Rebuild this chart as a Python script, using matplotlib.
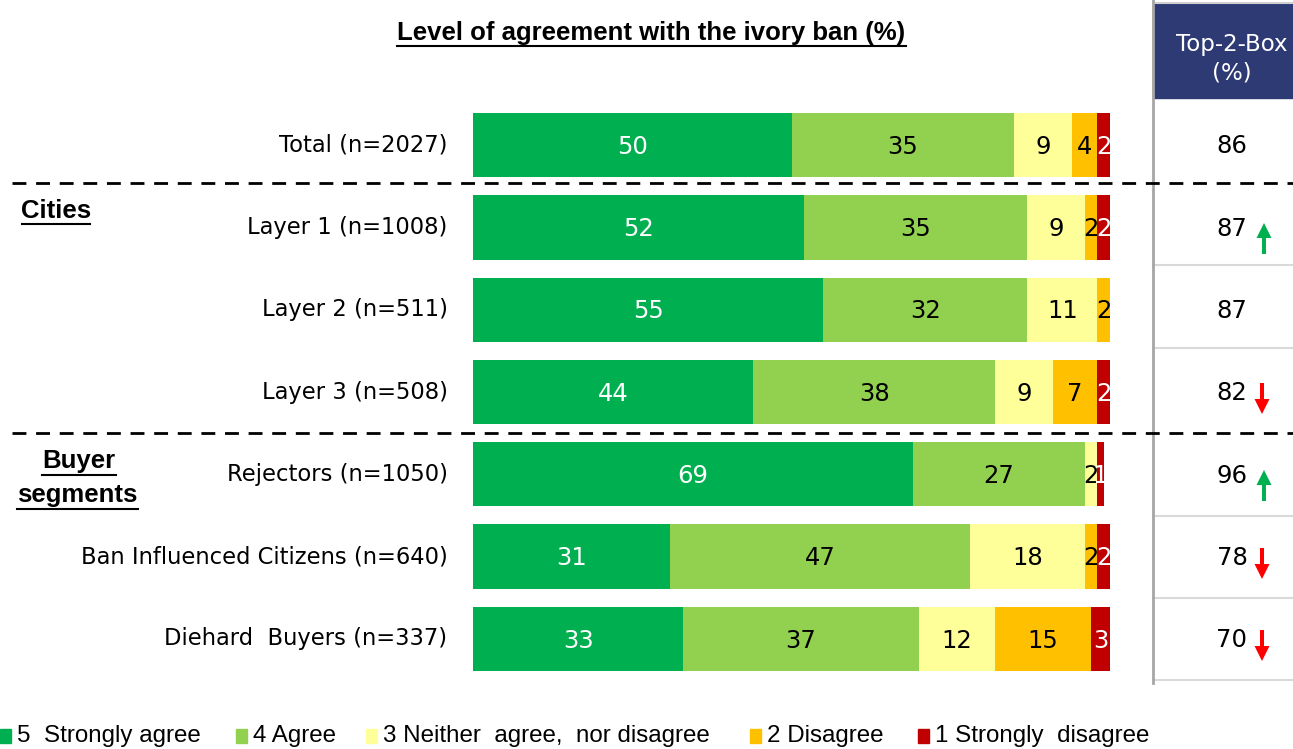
import matplotlib
matplotlib.use("Agg")
import matplotlib.pyplot as plt
from matplotlib.patches import Polygon, Rectangle
import numpy as np

plt.rcParams['font.family'] = ['DejaVu Sans']

categories = ["Total (n=2027)", "Layer 1 (n=1008)", "Layer 2 (n=511)", "Layer 3 (n=508)",
              "Rejectors (n=1050)", "Ban Influenced Citizens (n=640)", "Diehard  Buyers (n=337)"]
strongly_agree = [50, 52, 55, 44, 69, 31, 33]
agree = [35, 35, 32, 38, 27, 47, 37]
neither = [9, 9, 11, 9, 2, 18, 12]
disagree = [4, 2, 2, 7, 0, 2, 15]
strongly_disagree = [2, 2, 0, 2, 1, 2, 3]
top2box = [86, 87, 87, 82, 96, 78, 70]
trend = [0, 1, 0, -1, 1, -1, -1]
series_names = ["5  Strongly agree", "4 Agree", "3 Neither  agree,  nor disagree", "2 Disagree", "1 Strongly  disagree"]
colors = ["#00B050", "#92D050", "#FFFF99", "#FFC000", "#C00000"]
label_colors = ["white", "black", "black", "black", "white"]

W, H = 1293, 749
fig = plt.figure(figsize=(W / 100, H / 100), dpi=100)

ov = fig.add_axes([0, 0, 1, 1])
ov.set_xlim(0, W)
ov.set_ylim(H, 0)
ov.axis('off')

x0, x1 = 473, 1110
ytop, ybot = 104, 680
ax = fig.add_axes([x0 / W, 1 - ybot / H, (x1 - x0) / W, (ybot - ytop) / H])
ax.set_xlim(0, 100)
n = len(categories)
ax.set_ylim(n - 0.5, -0.5)
ax.axis('off')

series = [strongly_agree, agree, neither, disagree, strongly_disagree]
ypos = np.arange(n)
left = np.zeros(n)
for s, vals in enumerate(series):
    vals = np.array(vals, dtype=float)
    ax.barh(ypos, vals, left=left, height=0.78, color=colors[s], edgecolor='none')
    for i, v in enumerate(vals):
        if v > 0:
            ax.text(left[i] + v / 2, i + 0.02, f"{int(v)}", ha='center', va='center',
                    fontsize=17.5, color=label_colors[s])
    left += vals

for i, c in enumerate(categories):
    ax.text(-0.04, i, c, ha='right', va='center', fontsize=16.3, color='black',
            transform=ax.get_yaxis_transform())

head_fam = ['Liberation Sans', 'DejaVu Sans']

ov.text(651, 33, "Level of agreement with the ivory ban (%)", ha='center', va='center',
        fontsize=18.5, color='black', family=head_fam, fontweight='bold')
ov.plot([397, 906], [46, 46], color='black', lw=1.5)

ov.text(56, 211, "Cities", ha='center', va='center', fontsize=18.5, color='black',
        family=head_fam, fontweight='bold')
ov.plot([22, 90], [224, 224], color='black', lw=1.5)
ov.text(79, 461, "Buyer", ha='center', va='center', fontsize=18.5, color='black',
        family=head_fam, fontweight='bold')
ov.plot([42, 116], [475, 475], color='black', lw=1.5)
ov.text(77, 495, "segments", ha='center', va='center', fontsize=18.5, color='black',
        family=head_fam, fontweight='bold')
ov.plot([17, 138], [509, 509], color='black', lw=1.5)

# table
ov.add_patch(Rectangle((1153, 3), W - 1153, 95, color='#2E3A74', zorder=1))
ov.text(1232, 44, "Top-2-Box", ha='center', va='center', fontsize=16.5, color='white')
ov.text(1232, 73, "(%)", ha='center', va='center', fontsize=16.5, color='white')
ov.plot([1153, W], [3, 3], color='#D0D0D0', lw=1.5)
for yy in [265, 348, 516, 598, 680]:
    ov.plot([1153, W], [yy, yy], color='#D9D9D9', lw=1.5)
ov.plot([1153, 1153], [0, 683], color='#A6A6A6', lw=2)


def arrow(x, y_tip, direction, color):
    # direction: -1 up, +1 down (pixel y grows downward)
    head_len, half_w, shaft_len, shaft_hw = 15, 7.5, 16, 1.6
    yb = y_tip - direction * head_len
    ov.add_patch(Polygon([(x, y_tip), (x - half_w, yb), (x + half_w, yb)], closed=True,
                         color=color, lw=0))
    ye = yb - direction * shaft_len
    ov.add_patch(Rectangle((x - shaft_hw, min(yb, ye)), 2 * shaft_hw, abs(ye - yb),
                           color=color, lw=0))


rowy = [145, 228, 310, 392, 475, 557, 639]
for i, (v, t) in enumerate(zip(top2box, trend)):
    ov.text(1232, rowy[i] + 1, f"{v}", ha='center', va='center', fontsize=17.5, color='black')
    if t > 0:
        arrow(1264, rowy[i] - 5, -1, '#00B050')
    elif t < 0:
        arrow(1262, rowy[i] + 22, 1, '#FF0000')

for yy in [183, 433]:
    ov.plot([12, W], [yy, yy], color='black', lw=2, dashes=(5, 3.5))

leg_x = [0, 236, 366, 750, 918]
for i, (lx, name) in enumerate(zip(leg_x, series_names)):
    ov.add_patch(Rectangle((lx, 729), 11, 14, color=colors[i]))
    ov.text(lx + 17, 736, name, ha='left', va='center', fontsize=17.4, color='black',
            family=head_fam)

fig.savefig("out.png", dpi=100)
